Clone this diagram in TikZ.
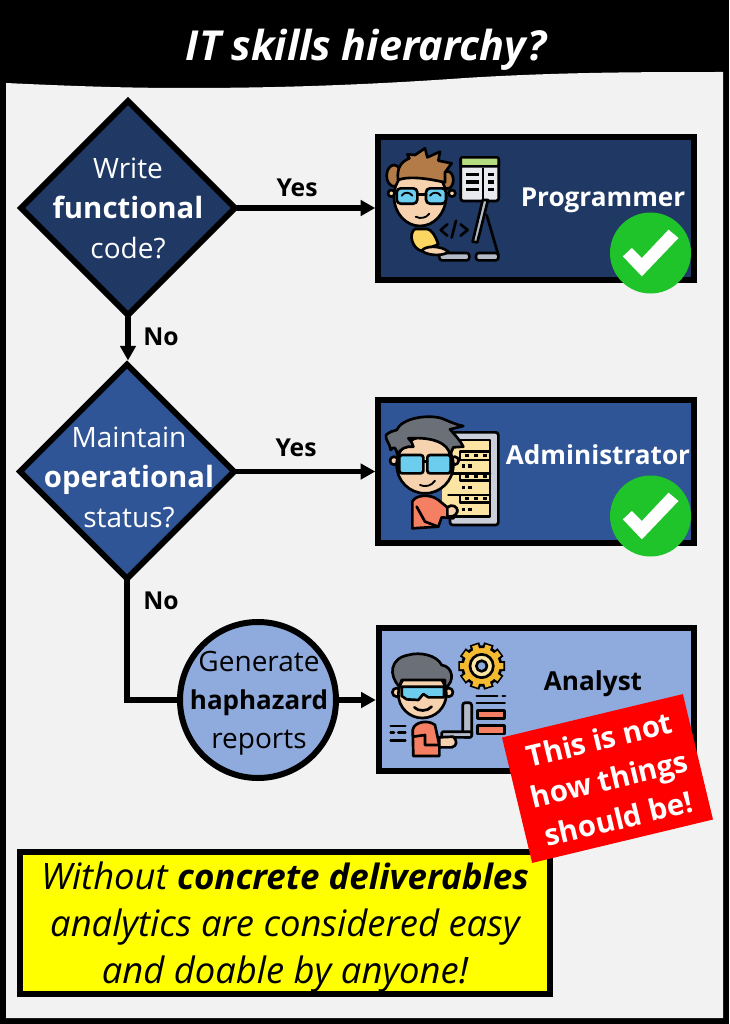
\documentclass[tikz,border=0pt]{standalone}
\usepackage{fontspec}
\setmainfont{Open Sans}
\usetikzlibrary{shapes.geometric,arrows.meta}
\definecolor{panel}{HTML}{F2F2F2}
\definecolor{navy}{HTML}{1F3864}
\definecolor{midblue}{HTML}{2F5597}
\definecolor{lightblue}{HTML}{8FAADC}
\definecolor{okgreen}{HTML}{1FC32A}
\definecolor{skin}{HTML}{F6D3AE}
\definecolor{brownhair}{HTML}{B27B48}
\definecolor{greyhair}{HTML}{6B7078}
\definecolor{lens}{HTML}{6CCDEE}
\definecolor{salmon}{HTML}{F47F62}
\definecolor{paleyellow}{HTML}{FCE5A3}
\definecolor{gold}{HTML}{F4BA30}
\definecolor{shirt}{HTML}{FBD661}
\definecolor{steel}{HTML}{B4BAC8}
\definecolor{pagewhite}{HTML}{E9EAF0}
\definecolor{barlime}{HTML}{B5DC7F}
\definecolor{notefill}{RGB}{255,255,0}
\definecolor{warnfill}{RGB}{255,0,0}
\newcommand{\tsize}[1]{\fontsize{#1}{30}\selectfont}
\tikzset{
  rolebox/.style={draw=black,line width=4.5pt,rectangle,minimum width=315.5*.75pt,minimum height=143*.75pt,inner sep=0pt},
  decide/.style={draw=black,line width=4.5pt,diamond,aspect=1,minimum width=214*.75pt,minimum height=214*.75pt,inner sep=0pt,outer sep=0pt},
  flowtext/.style={text=white,align=center,inner sep=0pt,font=\tsize{21}},
  rolelabel/.style={text=white,font=\bfseries\tsize{19.6},inner sep=0pt},
  branch/.style={font=\bfseries\tsize{18.5},inner sep=0pt},
  link/.style={line width=3.8pt,-{Triangle[length=11pt,width=11.5pt]}},
  okdot/.style={circle,fill=okgreen,minimum size=81*.75pt,inner sep=0pt},
  ic/.style={draw=black,line width=2pt,line join=round,line cap=round},
  icthin/.style={draw=black,line width=1.4pt,line join=round,line cap=round}
}
\begin{document}
\begin{tikzpicture}[x=.75pt,y=-.75pt]
\useasboundingbox[fill=black] (0,0) rectangle (729,1024);
\fill[panel] (6,83) .. controls (90,87) and (140,88) .. (186,88) .. controls (290,88) and (380,84) .. (465,78) .. controls (560,72) and (650,72) .. (723,72) -- (723,1018) -- (6,1018) -- cycle;
\node[text=white,inner sep=0pt,font=\bfseries\itshape\fontsize{31}{36}\selectfont] (title) at (366,50) {IT skills hierarchy?};

% boxes
\node[rolebox,fill=navy] (prog) at (536,208.5) {};
\node[rolebox,fill=midblue] (admin) at (536,471.5) {};
\node[rolebox,fill=lightblue] (analyst) at (536.5,699.5) {};

% decisions
\node[decide,fill=navy] (d1) at (128,208) {};
\node[decide,fill=midblue] (d2) at (127,471.5) {};
\node[circle,draw=black,line width=4.5pt,fill=lightblue,minimum size=156*.75pt,inner sep=0pt] (gen) at (258,700) {};

\node[flowtext] (d1t) at (128,208) {Write\\{\bfseries\tsize{22}functional}\\code?};
\node[flowtext] (d2t) at (129,477) {Maintain\\{\bfseries\tsize{22}operational}\\status?};
\node[flowtext,text=black,font=\fontsize{21}{29}\selectfont] (gent) at (259,703) {Generate\\{\bfseries\tsize{19.5}haphazard}\\reports};

% connectors
\draw[link] (d1.east) -- (d1.east -| prog.west);
\draw[link,shorten >=3pt] (d1.south) -- (d1.south |- d2.north);
\draw[link] (d2.east) -- (d2.east -| admin.west);
\draw[line width=3.8pt] (d2.south) |- (gen.west);
\draw[link] (gen.east) -- (gen.east -| analyst.west);

\node[branch] (yes1) at (297,188) {Yes};
\node[branch] (no1) at (161,337) {No};
\node[branch] (yes2) at (296,448) {Yes};
\node[branch] (no2) at (161,601) {No};

% role labels
\node[rolelabel] (progt) at (603,200) {Programmer};
\node[rolelabel] (admint) at (598,455) {Administrator};
\node[rolelabel,text=black] (analystt) at (593,684) {Analyst};

% check marks
\node[okdot] (ok1) at (650.5,253) {};
\node[okdot] (ok2) at (650.5,516) {};
\begin{scope}[shift={(ok1.center)},scale=1/3]
\fill[white] (-83,10) -- (-56,-15) -- (-26,15) -- (54,-70) -- (84,-45) -- (-26,70) -- cycle;
\end{scope}
\begin{scope}[shift={(ok2.center)},scale=1/3]
\fill[white] (-83,10) -- (-56,-15) -- (-26,15) -- (54,-70) -- (84,-45) -- (-26,70) -- cycle;
\end{scope}

% programmer icon
\begin{scope}[shift={(370,125)},scale=1/3]
\draw[ic,fill=pagewhite,rounded corners=2pt] (272,97) rectangle (386,228);
\draw[ic,fill=barlime,rounded corners=1pt] (272,97) rectangle (386,124);
\draw[icthin] (340,130) -- (340,222);
\foreach \y in {150,172,195}{\fill (288,\y-7) rectangle (328,\y+4); \fill (355,\y-7) rectangle (372,\y+4);}
\draw[ic,fill=steel] (354,225) -- (338,225) -- (308,350) -- (322,352) -- cycle;
\draw[ic] (350,270) -- (385,390);
\draw[ic,fill=steel,rounded corners=2pt] (208,384) rectangle (298,406);
\draw[ic,fill=steel,rounded corners=2pt] (318,384) rectangle (385,406);
\draw[ic] (232,298) -- (212,315) -- (232,332);
\draw[ic] (272,298) -- (293,315) -- (272,332);
\draw[ic] (258,287) -- (245,338);
\draw[ic,fill=shirt] (135,312) .. controls (115,325) and (125,370) .. (155,378) -- (205,358) .. controls (195,330) and (185,315) .. (172,312) -- cycle;
\draw[ic,fill=skin] (155,378) .. controls (165,360) and (215,362) .. (235,380) .. controls (225,392) and (180,395) .. (155,378) -- cycle;
\draw[ic,fill=brownhair] (72,152) circle [x radius=22,y radius=32];
\draw[ic,fill=brownhair] (232,165) circle [x radius=18,y radius=26];
\draw[ic,fill=skin] (150,215) circle [x radius=78,y radius=88];
\draw[ic,fill=skin] (64,205) circle [radius=10];
\draw[ic,fill=skin] (246,205) circle [radius=10];
\draw[ic,fill=brownhair] (84,165) .. controls (80,125) and (95,110) .. (118,100) -- (112,88) -- (135,90) -- (165,70) -- (172,97) -- (210,80) -- (205,107) -- (245,115) -- (225,142) -- (225,172) .. controls (190,165) and (125,150) .. (84,165) -- cycle;
\draw[ic,fill=lens,rounded corners=3pt] (80,190) rectangle (142,236);
\draw[ic,fill=lens,rounded corners=3pt] (168,190) rectangle (228,236);
\draw[ic] (142,208) -- (168,208);
\draw[icthin] (95,212) .. controls (103,200) and (118,200) .. (127,212);
\draw[icthin] (180,212) .. controls (188,200) and (205,200) .. (212,212);
\draw[icthin] (137,275) .. controls (150,282) and (168,280) .. (178,266);
\end{scope}

% administrator icon
\begin{scope}[shift={(370,390)},scale=1/3]
\draw[ic,fill=steel!70!white,rounded corners=2pt] (240,127) rectangle (385,405);
\fill[paleyellow] (215,150) rectangle (360,380);
\draw[ic] (230,150) -- (360,150) -- (360,380) -- (230,380);
\draw[ic] (270,185) rectangle (360,210);
\draw[ic] (235,250) -- (360,250);
\draw[ic] (235,315) -- (360,315);
\draw[ic] (270,250) rectangle (360,272);
\draw[ic] (270,315) rectangle (360,337);
\foreach \y in {196,260,326}{\foreach \x in {290,318,345}{\fill (\x-6,\y-5) rectangle (\x+6,\y+5);}}
\foreach \y in {228,293,358}{\foreach \x in {280,300}{\fill (\x-5,\y-5) rectangle (\x+5,\y+5);}}
\draw[ic,fill=salmon] (127,415) -- (127,335) .. controls (135,315) and (180,310) .. (205,330) -- (232,352) -- (262,360) -- (250,385) -- (215,382) -- (205,410) -- cycle;
\draw[ic,fill=skin] (232,352) .. controls (245,340) and (265,350) .. (262,365) .. controls (258,380) and (240,382) .. (232,378) -- cycle;
\draw[ic] (140,350) -- (165,395) -- (205,410);
\draw[ic,fill=skin] (72,212) circle [radius=12];
\draw[ic,fill=skin] (254,212) circle [radius=12];
\draw[ic,fill=skin] (165,225) circle [x radius=85,y radius=85];
\draw[ic,fill=greyhair] (82,195) .. controls (78,170) and (72,168) .. (62,180) .. controls (60,160) and (45,150) .. (48,135) .. controls (60,125) and (70,122) .. (80,120) .. controls (95,85) and (170,72) .. (215,85) .. controls (240,95) and (260,105) .. (280,108) -- (240,118) .. controls (255,135) and (270,150) .. (280,170) -- (250,172) -- (240,195) .. controls (235,160) and (190,140) .. (115,145) .. controls (125,155) and (128,162) .. (130,170) .. controls (110,168) and (90,175) .. (82,195) -- cycle;
\draw[ic,fill=lens,rounded corners=2pt] (88,195) rectangle (160,250);
\draw[ic,fill=lens,rounded corners=2pt] (172,195) rectangle (242,250);
\draw[ic] (160,215) -- (172,215);
\draw[icthin] (150,285) .. controls (165,292) and (185,288) .. (195,272);
\end{scope}

% analyst icon
\begin{scope}[shift={(370,620)},scale=1/3]
\foreach \a in {0,36,...,324}{\fill[black] (335,138) ++(\a:50) -- ++(\a+90:15) -- ++(\a:20) -- ++(\a-90:30) -- ++(\a+180:20) -- cycle;}
\draw[ic,fill=gold] (335,138) circle [radius=58];
\foreach \a in {0,36,...,324}{\fill[gold] (335,138) ++(\a:50) -- ++(\a+90:9) -- ++(\a:15) -- ++(\a-90:18) -- ++(\a+180:15) -- cycle;}
\draw[ic,fill=paleyellow] (335,138) circle [radius=35];
\draw[ic,fill=lightblue] (335,138) circle [radius=16];
\draw[ic] (320,228) -- (382,228);
\draw[ic] (398,228) -- (405,228);
\draw[icthin] (320,248) -- (405,248);
\draw[ic,fill=salmon] (322,272) rectangle (403,295);
\draw[ic,fill=salmon] (322,317) rectangle (403,342);
\draw[ic] (62,318) -- (106,318);
\draw[ic] (62,338) -- (72,338);
\draw[ic] (85,338) -- (106,338);
\draw[ic] (62,362) -- (106,362);
\draw[ic,fill=steel,rounded corners=2pt] (278,248) rectangle (305,352);
\draw[ic,fill=steel,rounded corners=1pt] (215,335) rectangle (305,352);
\draw[ic,fill=salmon] (130,408) -- (128,330) .. controls (132,305) and (175,298) .. (195,315) -- (208,375) -- (208,408) -- cycle;
\draw[ic,fill=skin] (208,352) -- (250,350) .. controls (262,362) and (262,378) .. (245,382) -- (208,382) -- cycle;
\draw[ic] (130,350) -- (165,345) -- (165,375) -- (208,375);
\draw[ic,fill=skin] (80,217) circle [radius=13];
\draw[ic,fill=skin] (236,217) circle [radius=13];
\draw[ic,fill=skin] (157,222) circle [x radius=72,y radius=72];
\draw[ic,fill=greyhair] (88,200) .. controls (55,165) and (60,115) .. (115,105) .. controls (150,95) and (200,105) .. (215,135) .. controls (250,140) and (255,185) .. (225,205) -- (225,180) -- (95,180) -- cycle;
\draw[ic,fill=lens] (95,200) -- (222,200) -- (222,232) -- (175,232) -- (160,222) -- (145,240) -- (110,238) -- (95,228) -- cycle;
\draw[ic] (133,262) .. controls (145,275) and (172,275) .. (185,260);
\end{scope}

% yellow note
\node[rectangle,draw=black,line width=4.5pt,fill=notefill,minimum width=530*.75pt,minimum height=142*.75pt,inner sep=0pt] (note) at (285,923) {};
\node[align=center,inner sep=0pt,font=\itshape\fontsize{27.3}{35.5}\selectfont] (notet) at (285,927) {Without {\bfseries\fontsize{26.2}{35.5}\selectfont concrete deliverables}\\analytics are considered easy\\and doable by anyone!};

% red sticker
\node[rectangle,fill=warnfill,rotate=13.5,minimum width=186*.75pt,minimum height=129*.75pt,inner sep=0pt] (warn) at (607.5,778.5) {};
\node[rotate=13.5,text=white,align=center,inner sep=0pt,font=\bfseries\fontsize{22}{30.5}\selectfont] (warnt) at (609,779) {This is not\\how things\\should be!};
\end{tikzpicture}
\end{document}
